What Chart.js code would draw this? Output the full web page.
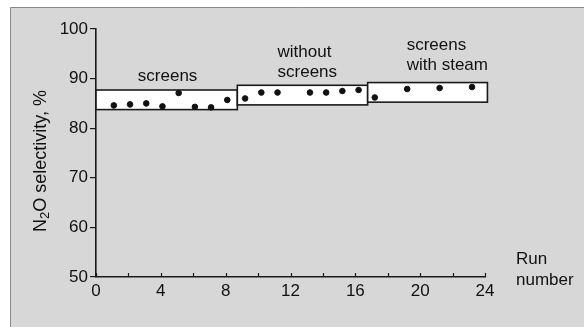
<!DOCTYPE html>
<html>
<head>
<meta charset="utf-8">
<script src="https://cdn.jsdelivr.net/npm/chart.js@4/dist/chart.umd.min.js"></script>
<style>
  html, body { margin: 0; padding: 0; background: #fff; }
  canvas { display: block; }
</style>
</head>
<body>
<canvas id="chart-area" width="584" height="327"></canvas>
<script>
// run number and N2O selectivity of each run
var runs = [1.1, 2.1, 3.1, 4.1, 5.1, 6.1, 7.1, 8.1, 9.2, 10.2, 11.2, 13.2, 14.2, 15.2, 16.2, 17.2, 19.2, 21.2, 23.2];
var selectivity = [84.6, 84.8, 85.0, 84.4, 87.1, 84.3, 84.2, 85.7, 86.0, 87.2, 87.2, 87.2, 87.2, 87.5, 87.7, 86.2, 87.9, 88.1, 88.3];

// ranges of the three regimes (open boxes)
var boxStart = [0, 8.72, 16.76];
var boxEnd = [8.72, 16.76, 24.15];
var boxLow = [83.75, 84.7, 85.25];
var boxHigh = [87.7, 88.65, 89.2];

// regime captions, left edge and first line in data units
var groupLabels = [['screens'], ['without', 'screens'], ['screens', 'with steam']];
var labelX = [2.58, 11.2, 19.17];
var labelY = [90.5, 95.3, 96.8];

var yTicks = [50, 60, 70, 80, 90, 100];

var textColor = '#111111';
var fontFamily = '"Liberation Sans", Arial, sans-serif';

var panelPlugin = {
	id: 'panel',
	beforeDraw: function(chart) {
		var ctx = chart.ctx;
		ctx.save();
		ctx.fillStyle = '#ffffff';
		ctx.fillRect(0, 0, chart.width, chart.height);
		ctx.fillStyle = '#d7d7d7';
		ctx.fillRect(10, 7, chart.width - 10, chart.height - 7);
		ctx.strokeStyle = '#8a8a8a';
		ctx.lineWidth = 1;
		ctx.beginPath();
		ctx.moveTo(10.5, chart.height);
		ctx.lineTo(10.5, 7.5);
		ctx.lineTo(chart.width, 7.5);
		ctx.stroke();
		ctx.restore();
	},
	beforeDatasetsDraw: function(chart) {
		var ctx = chart.ctx;
		var xs = chart.scales.x, ys = chart.scales.y;
		ctx.save();
		for (var i = 0; i < boxStart.length; i++) {
			var x0 = xs.getPixelForValue(boxStart[i]);
			var x1 = xs.getPixelForValue(boxEnd[i]);
			var y0 = ys.getPixelForValue(boxHigh[i]);
			var y1 = ys.getPixelForValue(boxLow[i]);
			ctx.fillStyle = '#ffffff';
			ctx.fillRect(x0, y0, x1 - x0, y1 - y0);
			ctx.strokeStyle = '#1a1a1a';
			ctx.lineWidth = 1.6;
			ctx.strokeRect(x0, y0, x1 - x0, y1 - y0);
		}
		ctx.restore();
	},
	afterDraw: function(chart) {
		var ctx = chart.ctx;
		var xs = chart.scales.x, ys = chart.scales.y;
		ctx.save();

		// small upward ticks on the run axis
		ctx.strokeStyle = '#1a1a1a';
		ctx.lineWidth = 1.2;
		xs.ticks.forEach(function(t) {
			var px = Math.round(xs.getPixelForValue(t.value)) + 0.5;
			ctx.beginPath();
			ctx.moveTo(px, ys.bottom);
			ctx.lineTo(px, ys.bottom - 4);
			ctx.stroke();
		});

		ctx.fillStyle = textColor;
		ctx.font = '17px ' + fontFamily;
		ctx.textAlign = 'left';
		ctx.textBaseline = 'middle';
		for (var i = 0; i < groupLabels.length; i++) {
			var px = xs.getPixelForValue(labelX[i]);
			var py = ys.getPixelForValue(labelY[i]);
			groupLabels[i].forEach(function(line, j) {
				ctx.fillText(line, px, py + j * 20.5);
			});
		}

		// x axis caption to the right of the axis
		ctx.font = '17px ' + fontFamily;
		ctx.fillText('Run', xs.right + 31, ys.bottom - 18);
		ctx.fillText('number', xs.right + 31, ys.bottom + 3);

		// y axis caption with subscript
		var parts = [['N', 18, 0], ['2', 13, 4], ['O selectivity, %', 18, 0]];
		var total = 0;
		parts.forEach(function(p) {
			ctx.font = p[1] + 'px ' + fontFamily;
			total += ctx.measureText(p[0]).width;
		});
		ctx.translate(41, 161);
		ctx.rotate(-Math.PI / 2);
		var cx = -total / 2;
		parts.forEach(function(p) {
			ctx.font = p[1] + 'px ' + fontFamily;
			ctx.fillText(p[0], cx, p[2]);
			cx += ctx.measureText(p[0]).width;
		});
		ctx.restore();
	}
};

var config = {
	type: 'scatter',
	data: {
		datasets: [{
			label: 'N2O selectivity',
			data: runs.map(function(r, i) { return {x: r, y: selectivity[i]}; }),
			backgroundColor: '#111111',
			borderColor: '#111111',
			pointRadius: 2.8,
			pointHoverRadius: 2.8
		}]
	},
	options: {
		responsive: false,
		animation: false,
		events: [],
		layout: {
			padding: {left: 0, right: 99, top: 29, bottom: 0}
		},
		plugins: {
			legend: {display: false},
			title: {display: false},
			tooltip: {enabled: false}
		},
		scales: {
			x: {
				type: 'linear',
				min: 0,
				max: 24,
				afterFit: function(scale) { scale.height = 50; },
				ticks: {
					stepSize: 2,
					color: textColor,
					padding: 4,
					maxRotation: 0,
					autoSkip: false,
					font: {family: fontFamily, size: 17},
					callback: function(v) { return v % 4 === 0 ? v : ''; }
				},
				grid: {display: true, drawOnChartArea: false, drawTicks: false},
				border: {display: true, color: '#1a1a1a', width: 1.6}
			},
			y: {
				min: 50,
				max: 100,
				afterFit: function(scale) { scale.width = 96; },
				afterBuildTicks: function(scale) {
					scale.ticks = yTicks.map(function(v) { return {value: v}; });
				},
				ticks: {
					color: textColor,
					padding: 2,
					font: {family: fontFamily, size: 17}
				},
				grid: {drawOnChartArea: false, drawTicks: true, tickLength: 6, color: '#1a1a1a', lineWidth: 1.2},
				border: {display: true, color: '#1a1a1a', width: 1.6}
			}
		}
	},
	plugins: [panelPlugin]
};

window.onload = function() {
	var ctx = document.getElementById('chart-area').getContext('2d');
	window.myScatter = new Chart(ctx, config);
};
</script>
</body>
</html>
